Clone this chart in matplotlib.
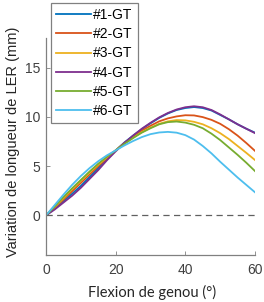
import numpy as np
import matplotlib
matplotlib.use("Agg")
import matplotlib.pyplot as plt

# flexion angle (deg) and LER length change (mm)
flexion = [0, 2.5, 5, 7.5, 10, 12.5, 15, 17.5, 20, 22.5, 25, 27.5, 30,
           32.5, 35, 37.5, 40, 42.5, 45, 47.5, 50, 52.5, 55, 57.5, 60]
gt1 = [0, 0.7, 1.45, 2.2, 3.0, 3.9, 4.8, 5.7, 6.6, 7.4, 8.1, 8.75, 9.35,
       9.9, 10.35, 10.7, 10.9, 11.0, 10.9, 10.65, 10.2, 9.75, 9.25, 8.8, 8.4]
gt2 = [0, 0.8, 1.6, 2.45, 3.3, 4.15, 5.0, 5.8, 6.6, 7.35, 8.0, 8.6, 9.1,
       9.55, 9.85, 10.05, 10.17, 10.15, 9.98, 9.7, 9.3, 8.75, 8.1, 7.35, 6.55]
gt3 = [0, 0.85, 1.75, 2.65, 3.5, 4.35, 5.15, 5.9, 6.6, 7.3, 7.9, 8.45, 8.9,
       9.3, 9.55, 9.68, 9.65, 9.5, 9.25, 8.85, 8.35, 7.75, 7.05, 6.35, 5.62]
gt4 = [0, 0.6, 1.3, 2.0, 2.8, 3.7, 4.6, 5.6, 6.5, 7.35, 8.1, 8.8, 9.4,
       9.95, 10.4, 10.75, 10.98, 11.08, 10.98, 10.7, 10.25, 9.75, 9.25, 8.8, 8.35]
gt5 = [0, 0.9, 1.85, 2.75, 3.6, 4.45, 5.25, 5.95, 6.6, 7.25, 7.85, 8.4, 8.85,
       9.25, 9.47, 9.53, 9.42, 9.2, 8.85, 8.3, 7.65, 6.9, 6.15, 5.35, 4.5]
gt6 = [0, 1.05, 2.1, 3.1, 4.0, 4.8, 5.5, 6.1, 6.6, 7.1, 7.55, 7.95, 8.25,
       8.42, 8.48, 8.4, 8.15, 7.7, 7.05, 6.3, 5.45, 4.65, 3.85, 3.1, 2.35]
labels = ["#1-GT", "#2-GT", "#3-GT", "#4-GT", "#5-GT", "#6-GT"]
colors = ["#0072BD", "#D95319", "#EDB120", "#7E2F8E", "#77AC30", "#4DBEEE"]

plt.rcParams["font.family"] = "Liberation Sans"
fig = plt.figure(figsize=(2.64, 3.02), dpi=100)
ax = fig.add_axes([0.174, 0.156, 0.792, 0.718])

for y, lab, c in zip([gt1, gt2, gt3, gt4, gt5, gt6], labels, colors):
    ax.plot(flexion, y, color=c, lw=1.3, label=lab)

ax.plot([0, 60], [0, 0], color="#606060", lw=0.9, ls=(0, (5, 3.5)))

ax.set_xlim(0, 60)
ax.set_ylim(-4, 18)
ax.set_xticks([0, 20, 40, 60])
ax.set_yticks([0, 5, 10, 15])
for s in ["top", "right"]:
    ax.spines[s].set_visible(False)
for s in ["left", "bottom"]:
    ax.spines[s].set_color("#808080")
    ax.spines[s].set_linewidth(0.9)
ax.tick_params(direction="in", length=3, width=0.6, colors="#808080",
               labelcolor="#404040", labelsize=10)
ax.tick_params(axis="x", pad=6)
ax.tick_params(axis="y", pad=4)
ax.set_xlabel("Flexion de genou (°)", fontsize=10.5, color="#262626",
              family="Lato")
ax.set_ylabel("Variation de longueur de LER (mm)", fontsize=10.5,
              color="#262626")
ax.xaxis.set_label_coords(0.507, -0.137)
ax.yaxis.set_label_coords(-0.125, 0.52)

leg = fig.legend(loc="upper left", bbox_to_anchor=(0.193, 0.99),
                 fontsize=10, frameon=True, fancybox=False, handlelength=2.5,
                 handletextpad=0.2, labelspacing=0.38, borderpad=0.35,
                 borderaxespad=0, framealpha=1)
leg.get_frame().set_edgecolor("#808080")
leg.get_frame().set_linewidth(0.9)

fig.savefig("out.png", dpi=100)
